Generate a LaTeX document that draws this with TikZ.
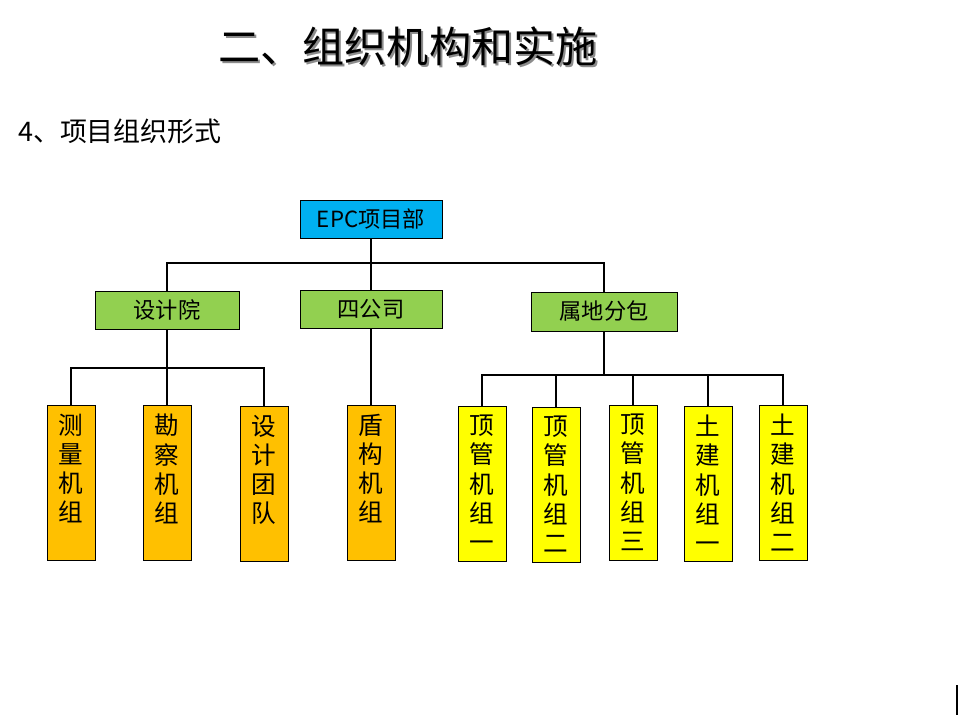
\documentclass[tikz,border=0pt]{standalone}
\usepackage{fontspec}
\setmainfont{Noto Sans CJK SC}
\usepackage{xcolor}
\usepackage{tikz}
\usetikzlibrary{calc, positioning}

\definecolor{epcblue}{HTML}{00B0F0}
\definecolor{unitgreen}{HTML}{92D050}
\definecolor{teamorange}{HTML}{FFC000}
\definecolor{crewyellow}{HTML}{FFFF00}

\newcommand{\px}{0.03cm}
% chu doc trong o dung
\newcommand{\vtext}[1]{\parbox[c][4.65cm][t]{1.4cm}{\centering\vspace*{0.28cm}#1}}

\tikzset{
    hbox/.style={draw, line width=0.8pt, minimum width=144*\px, minimum height=38*\px,
                 inner sep=0pt, font=\fontsize{19}{22}\selectfont},
    vbox/.style={draw, line width=0.8pt, minimum width=48*\px, minimum height=155*\px,
                 inner sep=0pt, font=\fontsize{21}{24.8}\selectfont},
    trunk/.style={line width=2.4pt},
    branch/.style={line width=1.6pt},
}

\begin{document}
\begin{tikzpicture}[x=0.03cm, y=-0.03cm]

    \useasboundingbox (0,0) rectangle (959,715);

    % =================================================================
    % 1. TIEU DE
    % =================================================================
    \node[text=black!45, font=\fontsize{36}{40}\selectfont] (titleshadow) at (410,48) {二、组织机构和实施};
    \node[font=\fontsize{36}{40}\selectfont] (title) at (408,46) {二、组织机构和实施};
    \node[anchor=west, font=\fontsize{23}{26}\selectfont] (subtitle) at (14,131) {4、项目组织形式};

    % =================================================================
    % 2. CAP TREN VA CAP GIUA
    % =================================================================
    \node[hbox, fill=epcblue, minimum width=142*\px] (epc) at (371,219) {EPC项目部};

    \node[hbox, fill=unitgreen] (sjy) at (167,310) {设计院};
    \node[hbox, fill=unitgreen, minimum width=142*\px] (sgs) at (371,309) {四公司};
    \node[hbox, fill=unitgreen, minimum width=146*\px, minimum height=39*\px] (sdfb) at (604,311.5) {属地分包};

    % Cac diem nut tren duong ngang
    \coordinate (bus1) at (371,263);
    \coordinate (bus2) at (167,368);
    \coordinate (bus3) at (604,375);

    % =================================================================
    % 3. CAP DUOI (CAC TO, MAY)
    % =================================================================
    \node[vbox, fill=teamorange] (cl) at (71,482.5) {\vtext{测\\量\\机\\组}};
    \node[vbox, fill=teamorange] (kc) at (167,482.5) {\vtext{勘\\察\\机\\组}};
    \node[vbox, fill=teamorange] (sjtd) at (264,483.5) {\vtext{设\\计\\团\\队}};

    \node[vbox, fill=teamorange] (dg) at (371,482.5) {\vtext{盾\\构\\机\\组}};

    \node[vbox, fill=crewyellow] (dg1) at (482,483.5) {\vtext{顶\\管\\机\\组\\一}};
    \node[vbox, fill=crewyellow] (dg2) at (556,484.5) {\vtext{顶\\管\\机\\组\\二}};
    \node[vbox, fill=crewyellow] (dg3) at (633,482.5) {\vtext{顶\\管\\机\\组\\三}};
    \node[vbox, fill=crewyellow] (tj1) at (708,483.5) {\vtext{土\\建\\机\\组\\一}};
    \node[vbox, fill=crewyellow] (tj2) at (783,482.5) {\vtext{土\\建\\机\\组\\二}};

    % =================================================================
    % 4. DUONG NOI
    % =================================================================
    \draw[trunk] (epc.south) -- (sgs.north);
    \draw[trunk] (sjy.north) |- (bus1) -| (sdfb.north);

    \draw[branch] (sjy.south) -- (bus2);
    \draw[branch] (cl.north) |- (bus2) -| (sjtd.north);
    \draw[branch] (bus2) -- (kc.north);

    \draw[branch] (sgs.south) -- (dg.north);

    \draw[branch] (sdfb.south) -- (bus3);
    \draw[branch] (dg1.north) |- (bus3) -| (tj2.north);
    \draw[branch] (dg2.north) -- (dg2.north |- bus3);
    \draw[branch] (dg3.north) -- (dg3.north |- bus3);
    \draw[branch] (tj1.north) -- (tj1.north |- bus3);

    % vach nho goc duoi phai
    \draw[line width=1pt] (957,685) -- (957,715);

\end{tikzpicture}
\end{document}
